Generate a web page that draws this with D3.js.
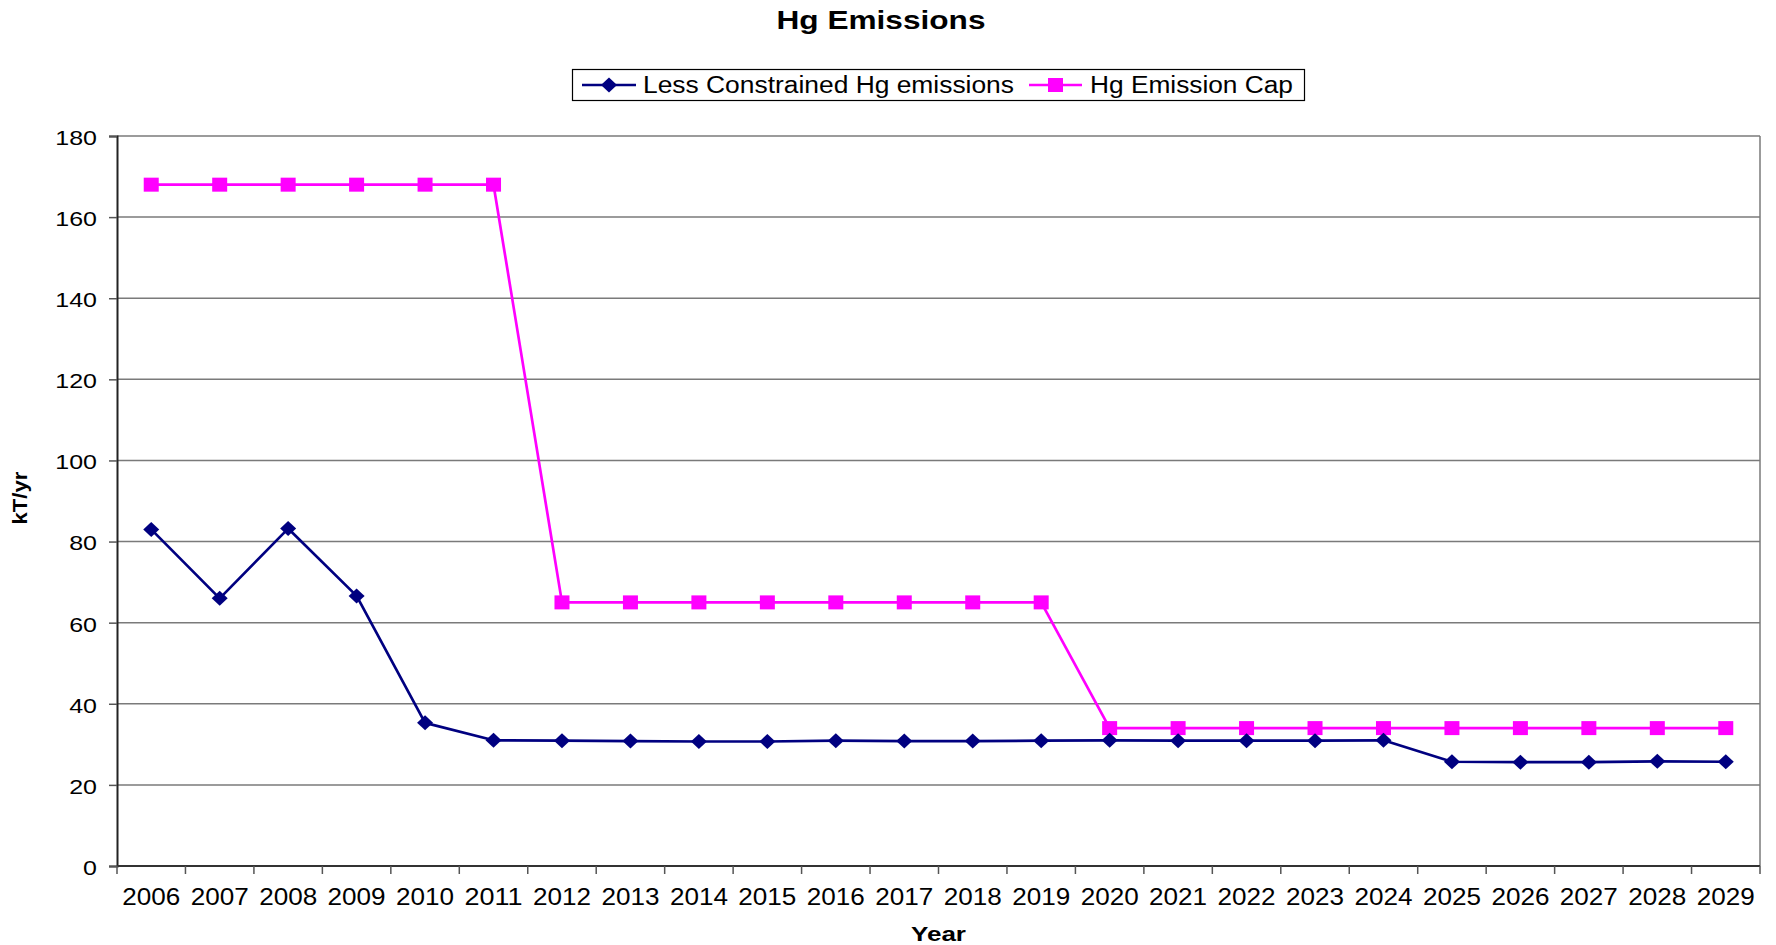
<!DOCTYPE html>
<html>
<head>
<meta charset="utf-8">
<script src="https://cdn.jsdelivr.net/npm/d3@7"></script>
<style>
  html, body { margin: 0; padding: 0; background: #fff; }
  svg { display: block; font-family: "Liberation Sans", Arial, sans-serif; }
</style>
</head>
<body>
<svg id="chart" width="1776" height="945"></svg>
<script>
// Years on the category axis
const years = ["2006","2007","2008","2009","2010","2011","2012","2013","2014","2015","2016","2017",
               "2018","2019","2020","2021","2022","2023","2024","2025","2026","2027","2028","2029"];

// Mercury emissions, kT/yr
const lessConstrained = [83.0, 66.0, 83.2, 66.6, 35.3, 31.0, 30.9, 30.8, 30.7, 30.7, 30.9, 30.8,
                         30.8, 30.9, 31.0, 30.9, 30.9, 30.9, 31.0, 25.7, 25.6, 25.6, 25.8, 25.7];
const emissionCap     = [168, 168, 168, 168, 168, 168, 65, 65, 65, 65, 65, 65,
                         65, 65, 34, 34, 34, 34, 34, 34, 34, 34, 34, 34];

const yTicks = [0, 20, 40, 60, 80, 100, 120, 140, 160, 180];

const seriesNames = ["Less Constrained Hg emissions", "Hg Emission Cap"];
const seriesColors = ["#000080", "#ff00ff"];

const svg = d3.select("#chart");
const plot = { left: 117, right: 1760, top: 136, bottom: 866 };

const x = d3.scaleBand().domain(years).range([plot.left, plot.right]).paddingInner(0).paddingOuter(0);
const y = d3.scaleLinear().domain([0, 180]).range([plot.bottom, plot.top]);

// Horizontal gridlines
svg.append("g")
  .selectAll("line")
  .data(yTicks.filter(d => d > 0))
  .join("line")
  .attr("x1", plot.left).attr("x2", plot.right)
  .attr("y1", d => y(d)).attr("y2", d => y(d))
  .attr("stroke", "#7a7a7a").attr("stroke-width", 1.5);

// Right frame edge
svg.append("line")
  .attr("x1", plot.right).attr("x2", plot.right)
  .attr("y1", plot.top).attr("y2", plot.bottom)
  .attr("stroke", "#7a7a7a").attr("stroke-width", 1.5);

// Y axis
const yAxis = svg.append("g")
  .attr("transform", `translate(${plot.left},0)`)
  .call(d3.axisLeft(y).tickValues(yTicks).tickSize(8).tickPadding(12).tickFormat(d3.format("d")));
yAxis.select(".domain").attr("stroke", "#222").attr("stroke-width", 2);
yAxis.selectAll(".tick line").attr("stroke", "#555").attr("stroke-width", 1.5);
yAxis.selectAll(".tick text")
  .attr("font-size", 21).attr("fill", "#000").attr("dy", "0.4em")
  .attr("textLength", d => String(d).length * 13.9)
  .attr("lengthAdjust", "spacingAndGlyphs");

// X axis: ticks fall on category boundaries, labels on category centres
const xAxisG = svg.append("g").attr("transform", `translate(0,${plot.bottom})`);
xAxisG.append("line")
  .attr("x1", plot.left).attr("x2", plot.right)
  .attr("stroke", "#333").attr("stroke-width", 2);
const boundaries = years.map(d => x(d)).concat([x(years[years.length - 1]) + x.bandwidth()]);
xAxisG.selectAll("line.tick")
  .data(boundaries)
  .join("line").attr("class", "tick")
  .attr("x1", d => d).attr("x2", d => d)
  .attr("y1", 0).attr("y2", 8)
  .attr("stroke", "#555").attr("stroke-width", 1.5);
xAxisG.selectAll("text")
  .data(years)
  .join("text")
  .attr("x", d => x(d) + x.bandwidth() / 2)
  .attr("y", 39)
  .attr("text-anchor", "middle")
  .attr("font-size", 23)
  .attr("textLength", 58)
  .attr("lengthAdjust", "spacingAndGlyphs")
  .text(d => d);

// Series lines and markers
const line = d3.line()
  .x((d, i) => x(years[i]) + x.bandwidth() / 2)
  .y(d => y(d));

function marker(g, shape, cx, cy, color) {
  if (shape === "diamond") {
    g.append("path")
      .attr("d", `M${cx},${cy - 7.5} L${cx + 8},${cy} L${cx},${cy + 7.5} L${cx - 8},${cy} Z`)
      .attr("fill", color);
  } else {
    g.append("rect")
      .attr("x", cx - 7.5).attr("y", cy - 7)
      .attr("width", 15).attr("height", 14)
      .attr("fill", color);
  }
}

function drawSeries(values, color, shape) {
  svg.append("path")
    .datum(values)
    .attr("fill", "none")
    .attr("stroke", color)
    .attr("stroke-width", 2.7)
    .attr("stroke-linejoin", "round")
    .attr("d", line);
  const g = svg.append("g");
  values.forEach((v, i) => marker(g, shape, x(years[i]) + x.bandwidth() / 2, y(v), color));
}
drawSeries(emissionCap, seriesColors[1], "square");
drawSeries(lessConstrained, seriesColors[0], "diamond");

// Title
svg.append("text")
  .attr("x", 881).attr("y", 29)
  .attr("text-anchor", "middle")
  .attr("font-size", 25).attr("font-weight", "bold")
  .attr("textLength", 209).attr("lengthAdjust", "spacingAndGlyphs")
  .text("Hg Emissions");

// Axis titles
svg.append("text")
  .attr("x", (plot.left + plot.right) / 2).attr("y", 941)
  .attr("text-anchor", "middle")
  .attr("font-size", 20).attr("font-weight", "bold")
  .attr("textLength", 55).attr("lengthAdjust", "spacingAndGlyphs")
  .text("Year");

svg.append("text")
  .attr("transform", "translate(27,498) rotate(-90)")
  .attr("text-anchor", "middle")
  .attr("font-size", 20).attr("font-weight", "bold")
  .attr("textLength", 53).attr("lengthAdjust", "spacingAndGlyphs")
  .text("kT/yr");

// Legend
const legend = svg.append("g");
legend.append("rect")
  .attr("x", 572.5).attr("y", 69.5).attr("width", 732).attr("height", 31)
  .attr("fill", "#fff").attr("stroke", "#000").attr("stroke-width", 1.2);

const legendItems = [
  { name: seriesNames[0], color: seriesColors[0], shape: "diamond", x0: 582, x1: 636, tx: 643, tw: 371 },
  { name: seriesNames[1], color: seriesColors[1], shape: "square", x0: 1029, x1: 1082, tx: 1090, tw: 203 }
];
legendItems.forEach(it => {
  const ly = 85;
  legend.append("line")
    .attr("x1", it.x0).attr("x2", it.x1).attr("y1", ly).attr("y2", ly)
    .attr("stroke", it.color).attr("stroke-width", 2.4);
  marker(legend, it.shape, (it.x0 + it.x1) / 2, ly, it.color);
  legend.append("text")
    .attr("x", it.tx).attr("y", 93)
    .attr("font-size", 23)
    .attr("textLength", it.tw).attr("lengthAdjust", "spacingAndGlyphs")
    .text(it.name);
});
</script>
</body>
</html>
